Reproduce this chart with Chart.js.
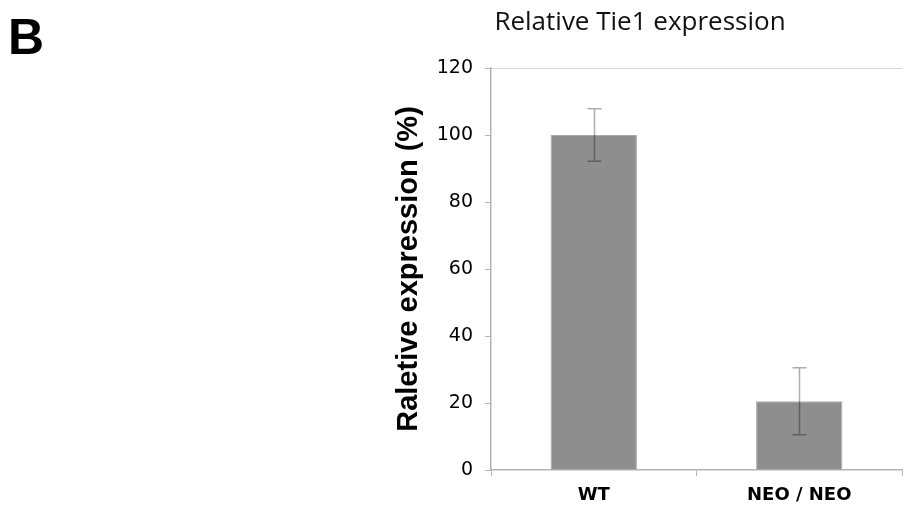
<!DOCTYPE html>
<html>
<head>
<meta charset="utf-8">
<script src="https://cdn.jsdelivr.net/npm/chart.js@4.4.0/dist/chart.umd.min.js"></script>
<style>
  body { margin: 0; background: #fff; }
  #wrap { position: relative; width: 913px; height: 510px; }
  #panel { position: absolute; left: 8px; top: 8px; font: bold 50px "Liberation Sans", Arial, sans-serif; color: #000; }
  #title { position: absolute; left: 440px; width: 400px; top: 2px; text-align: center;
           font: 26px "Open Sans", sans-serif; color: #111; }
</style>
</head>
<body>
<div id="wrap">
  <div id="panel">B</div>
  <div id="title">Relative Tie1 expression</div>
  <canvas id="tieChart" width="913" height="510"></canvas>
</div>
<script>
// data
const categories = ['WT', 'NEO / NEO'];
const expression = [100, 20.5];
const errors = [7.8, 10];
const yTicks = [0, 20, 40, 60, 80, 100, 120];

const axisGray = '#b4b4b4';

// draws the +/- error bars on top of each bar
const errorBars = {
  id: 'errorBars',
  afterDatasetsDraw(chart) {
    const ctx = chart.ctx;
    const y = chart.scales.y;
    const meta = chart.getDatasetMeta(0);
    ctx.save();
    ctx.strokeStyle = 'rgba(0,0,0,0.32)';
    ctx.lineWidth = 1.5;
    meta.data.forEach((bar, i) => {
      const x = Math.round(bar.x) + 0.5;
      const top = y.getPixelForValue(expression[i] + errors[i]);
      const bot = y.getPixelForValue(expression[i] - errors[i]);
      ctx.beginPath();
      ctx.moveTo(x, top); ctx.lineTo(x, bot);
      ctx.moveTo(x - 7, top); ctx.lineTo(x + 7, top);
      ctx.moveTo(x - 7, bot); ctx.lineTo(x + 7, bot);
      ctx.stroke();
    });
    ctx.restore();
  }
};

new Chart(document.getElementById('tieChart'), {
  type: 'bar',
  data: {
    labels: categories,
    datasets: [{
      data: expression,
      backgroundColor: '#8e8e8e',
      borderColor: '#a8a8a8',
      borderWidth: 1,
      categoryPercentage: 1,
      barPercentage: 0.42
    }]
  },
  options: {
    responsive: false,
    animation: false,
    layout: { padding: { left: 392, right: 11, top: 68, bottom: 0 } },
    plugins: {
      legend: { display: false },
      tooltip: { enabled: false }
    },
    scales: {
      x: {
        offset: true,
        grid: {
          offset: true,
          drawOnChartArea: false,
          drawTicks: true,
          tickLength: 6,
          tickColor: axisGray
        },
        border: { color: axisGray, width: 1.5 },
        ticks: {
          color: '#000',
          padding: 9,
          font: { family: 'DejaVu Sans', size: 18, weight: 'bold' }
        },
        afterFit(scale) { scale.height = 40; }
      },
      y: {
        min: 0,
        max: 120,
        afterBuildTicks(scale) { scale.ticks = yTicks.map(v => ({ value: v })); },
        grid: {
          color(ctx) { return ctx.tick && ctx.tick.value === 120 ? '#d6d6d6' : 'rgba(0,0,0,0)'; },
          tickColor: axisGray,
          tickLength: 6
        },
        border: { color: axisGray, width: 1.5 },
        ticks: {
          color: '#000',
          padding: 12,
          font: { family: 'DejaVu Sans', size: 19 }
        },
        title: {
          display: true,
          text: 'Raletive expression (%)',
          color: '#000',
          font: { family: 'Liberation Sans', size: 29, weight: 'bold' },
          padding: { top: 0, bottom: 4 }
        },
        afterFit(scale) { scale.width = 99; }
      }
    }
  },
  plugins: [errorBars]
});
</script>
</body>
</html>
